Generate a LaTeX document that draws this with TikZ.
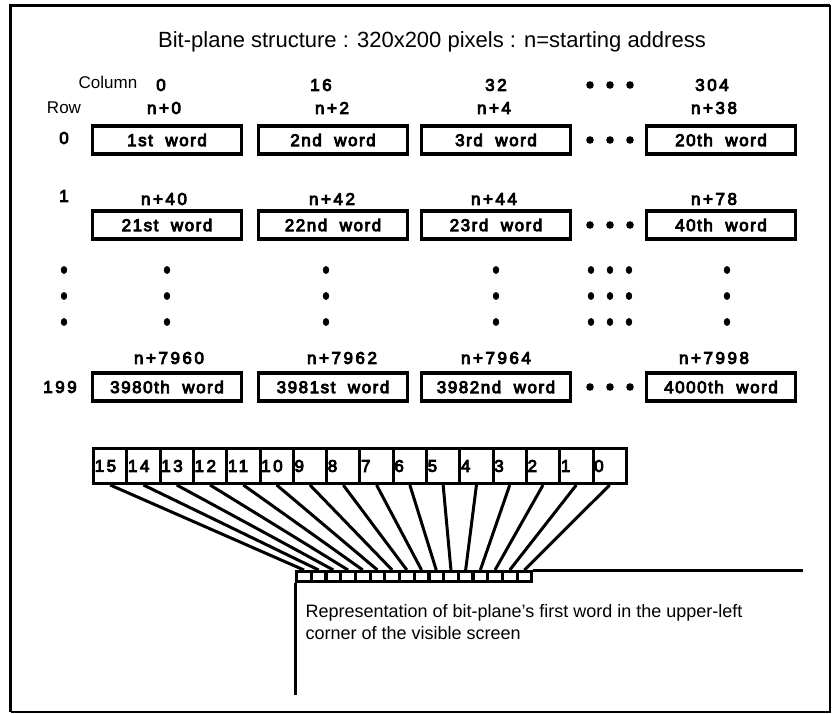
\documentclass[tikz,border=0pt]{standalone}
\usepackage{fontspec}
\setmainfont{Liberation Sans}
\newfontfamily\lblfont[LetterSpace=9, FakeBold=5]{Liberation Sans}
\newfontfamily\numfont[LetterSpace=15, FakeBold=5]{Liberation Sans}
\usetikzlibrary{positioning}

\tikzset{
  lbl/.style={font=\numfont\fontsize{17}{19}\selectfont, inner sep=0pt},
  wordbox/.style={draw, line width=3.4pt, minimum width=149pt, minimum height=28pt,
    inner sep=0pt, font=\lblfont\fontsize{17}{19}\selectfont},
  bitcell/.style={draw, line width=3pt, minimum width=33.3pt, minimum height=35pt,
    inner sep=0pt, anchor=north west},
  pixcell/.style={draw, line width=3.2pt, minimum width=14.7pt, minimum height=10pt,
    inner sep=0pt, anchor=north west},
  wire/.style={line width=3pt}
}

\begin{document}
\begin{tikzpicture}[x=1pt, y=-1pt]
  \useasboundingbox (0,0) rectangle (832,714);

  % Frame
  \draw[line width=3.5pt] (10.5,712) -- (10.5,5.5) -- (830,5.5);
  \draw[line width=1.5pt] (830,5.5) -- (830,712) -- (10.5,712);

  % Title
  \node (title) at (432,42) {\fontsize{22}{24}\selectfont Bit-plane structure : 320x200 pixels : n=starting address};

  % Column and row headings
  \node (colhead) at (108,82) {\fontsize{17}{19}\selectfont Column};
  \node (rowhead) at (64,108) {\fontsize{17}{19}\selectfont Row};
  \node[lbl] (c0) at (161,85) {0};
  \node[lbl] (c16) at (321,85) {16};
  \node[lbl] (c32) at (496,85) {32};
  \node[lbl] (c304) at (712,85) {304};
  \foreach \x in {590,610,630} \fill (\x,85) circle (3.8);

  % Row 0
  \node[lbl] (r0) at (64,138) {0};
  \node[wordbox] (w1) at (167,140) {1st~~word};
  \node[wordbox] (w2) at (333,140) {2nd~~word};
  \node[wordbox] (w3) at (496,140) {3rd~~word};
  \node[wordbox] (w20) at (721,140) {20th~~word};
  \node[lbl] (a0) at (164,108) {n+0};
  \node[lbl] (a2) at (332,108) {n+2};
  \node[lbl] (a4) at (494,108) {n+4};
  \node[lbl] (a38) at (714,108) {n+38};
  \foreach \x in {590,610,630} \fill (\x,140) circle (3.8);

  % Row 1
  \node[lbl] (r1) at (64,196) {1};
  \node[wordbox] (w21) at (167,225) {21st~~word};
  \node[wordbox] (w22) at (333,225) {22nd~~word};
  \node[wordbox] (w23) at (496,225) {23rd~~word};
  \node[wordbox] (w40) at (721,225) {40th~~word};
  \node[lbl] (a40) at (164,199) {n+40};
  \node[lbl] (a42) at (332,199) {n+42};
  \node[lbl] (a44) at (494,199) {n+44};
  \node[lbl] (a78) at (714,199) {n+78};
  \foreach \x in {590,610,630} \fill (\x,225) circle (3.8);

  % Vertical dots
  \foreach \y in {270,296,322} {
    \foreach \x in {64,167,326,496,727,591,610,629}
      \fill (\x,\y) ellipse (3.2 and 3.9);
  }

  % Row 199
  \node[lbl] (r199) at (60,387) {199};
  \node[wordbox] (w3980) at (167,387) {3980th~~word};
  \node[wordbox] (w3981) at (333,387) {3981st~~word};
  \node[wordbox] (w3982) at (496,387) {3982nd~~word};
  \node[wordbox] (w4000) at (721,387) {4000th~~word};
  \node[lbl] (a7960) at (169,358) {n+7960};
  \node[lbl] (a7962) at (342,358) {n+7962};
  \node[lbl] (a7964) at (496,358) {n+7964};
  \node[lbl] (a7998) at (714,358) {n+7998};
  \foreach \x in {590,610,630} \fill (\x,387) circle (3.8);

  % Bits of the first word and their pixels
  \foreach \i in {0,...,15} {
    \pgfmathtruncatemacro{\b}{15-\i}
    \node[bitcell] (bit\b) at ({92+33.3*\i},447) {};
    \node[anchor=west, inner sep=2.5pt, font=\numfont\fontsize{17}{19}\selectfont]
      at (bit\b.west) {\b};
    \node[pixcell] (pix\b) at ({295+14.7*\i},570) {};
    \draw[wire] (bit\b.south) -- (pix\b.north);
  }

  % Visible screen edges
  \coordinate (scrR) at (803,570);
  \coordinate (scrB) at (295,695);
  \draw[line width=3pt] (pix0.north east) -- (scrR);
  \draw[line width=3pt] (pix15.south west) -- (scrB);

  \node[anchor=north west, align=left, font=\fontsize{18}{22}\selectfont] (note) at (302,601)
    {Representation of bit-plane's first word in the upper-left\\corner of the visible screen};
\end{tikzpicture}
\end{document}
